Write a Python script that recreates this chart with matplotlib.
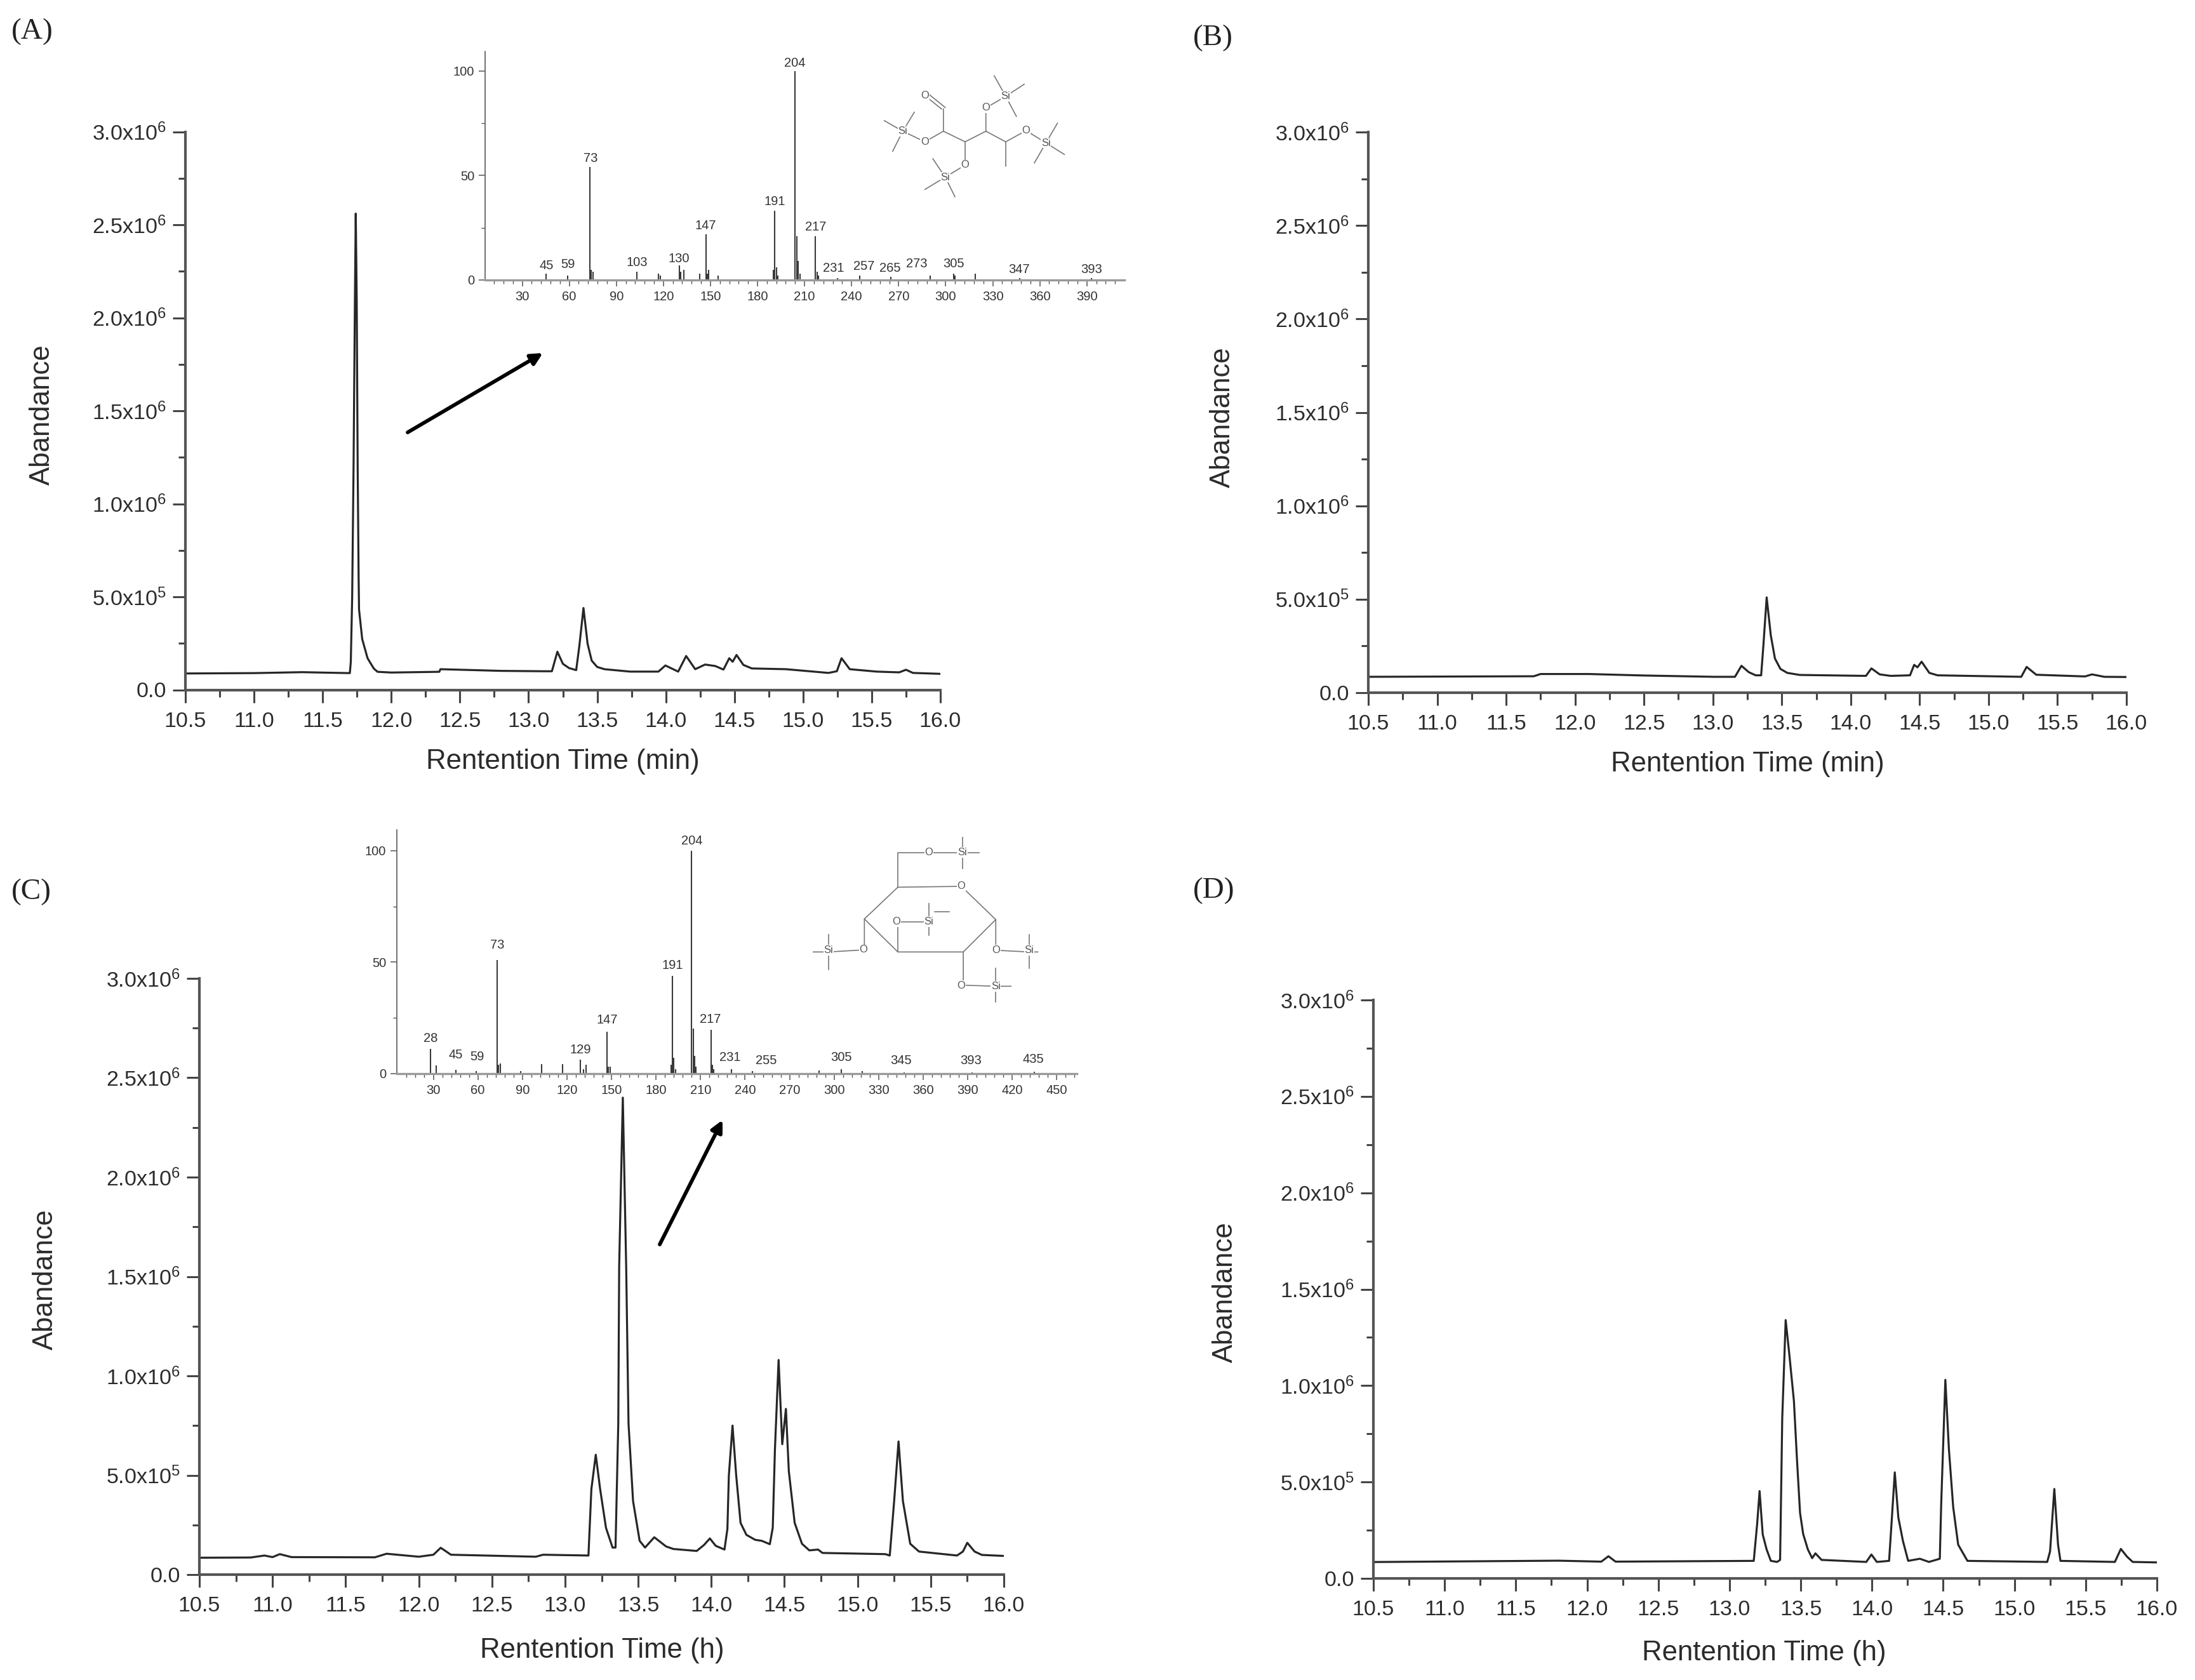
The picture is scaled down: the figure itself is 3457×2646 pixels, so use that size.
import matplotlib
matplotlib.use("Agg")
import matplotlib.pyplot as plt
import numpy as np

W, H = 3457, 2646
DPI = 100
INK = "#2b2b2b"

plt.rcParams["font.family"] = ["Liberation Sans", "DejaVu Sans"]
plt.rcParams["mathtext.default"] = "regular"

# chromatograms, abundance in units of 1e5
time_a = [10.5, 11.0, 11.35, 11.69, 11.698, 11.705, 11.715, 11.725, 11.735, 11.741, 11.748, 11.755, 11.762, 11.765,
          11.788, 11.827, 11.873, 11.9, 12.0, 12.35, 12.358, 12.8, 13.1, 13.17, 13.21, 13.25, 13.295, 13.347, 13.37,
          13.4, 13.43, 13.46, 13.5, 13.553, 13.74, 13.946, 13.997, 14.09, 14.148, 14.214, 14.286, 14.36, 14.42,
          14.462, 14.487, 14.515, 14.565, 14.627, 14.875, 15.185, 15.246, 15.28, 15.34, 15.536, 15.7, 15.75, 15.8,
          16.0]
abund_a = [0.88, 0.90, 0.95, 0.90, 0.90, 1.5, 5.0, 12.0, 21.0, 25.6, 21.0, 12.0, 6.0, 4.32,
           2.73, 1.7, 1.14, 0.97, 0.93, 0.97, 1.11, 1.02, 1.0, 1.0, 2.05, 1.4, 1.17, 1.06, 2.36,
           4.4, 2.48, 1.57, 1.23, 1.11, 0.98, 0.98, 1.31, 0.98, 1.82, 1.11, 1.36, 1.28, 1.09,
           1.7, 1.51, 1.875, 1.34, 1.15, 1.11, 0.91, 1.0, 1.7, 1.11, 0.98, 0.94, 1.08, 0.91,
           0.86]

time_b = [10.5, 11.7, 11.75, 12.1, 12.5, 13.01, 13.16, 13.207, 13.26, 13.31, 13.35, 13.366, 13.39, 13.42, 13.45,
          13.49, 13.54, 13.63, 14.11, 14.15, 14.21, 14.29, 14.43, 14.46, 14.484, 14.514, 14.57, 14.63, 15.237,
          15.276, 15.346, 15.7, 15.75, 15.84, 16.0]
abund_b = [0.85, 0.88, 1.0, 1.0, 0.92, 0.85, 0.85, 1.44, 1.1, 0.93, 0.93, 2.5, 5.1, 3.07, 1.83,
           1.27, 1.06, 0.95, 0.90, 1.3, 0.98, 0.90, 0.93, 1.49, 1.36, 1.66, 1.06, 0.93, 0.85,
           1.38, 0.96, 0.87, 0.98, 0.85, 0.84]

time_c = [10.5, 10.85, 10.945, 11.0, 11.05, 11.13, 11.7, 11.78, 12.0, 12.1, 12.15, 12.22, 12.8, 12.85, 13.16, 13.18,
          13.21, 13.24, 13.28, 13.325, 13.345, 13.364, 13.37, 13.395, 13.418, 13.434, 13.465, 13.51, 13.547, 13.61,
          13.69, 13.74, 13.9, 13.95, 13.99, 14.03, 14.09, 14.11, 14.12, 14.145, 14.17, 14.2, 14.24, 14.30, 14.345,
          14.4, 14.42, 14.435, 14.46, 14.485, 14.51, 14.53, 14.57, 14.62, 14.67, 14.73, 14.76, 15.19, 15.22,
          15.25, 15.28, 15.31, 15.36, 15.42, 15.68, 15.72, 15.75, 15.8, 15.85, 16.0]
abund_c = [0.85, 0.86, 0.96, 0.88, 1.03, 0.88, 0.87, 1.05, 0.90, 1.0, 1.35, 1.0, 0.90, 1.0, 0.96, 4.3,
           6.03, 4.3, 2.35, 1.36, 1.36, 7.6, 15.5, 24.0, 15.5, 7.6, 3.7, 1.7, 1.36, 1.88,
           1.42, 1.29, 1.19, 1.49, 1.82, 1.45, 1.26, 2.3, 5.0, 7.5, 5.0, 2.6, 2.0, 1.75, 1.7,
           1.53, 2.35, 6.3, 10.8, 6.56, 8.34, 5.2, 2.6, 1.55, 1.22, 1.26, 1.09, 1.03, 0.96,
           3.7, 6.7, 3.7, 1.55, 1.16, 0.96, 1.16, 1.6, 1.16, 0.99, 0.94]

time_d = [10.5, 11.8, 12.1, 12.15, 12.2, 13.17, 13.194, 13.211, 13.233, 13.26, 13.29, 13.334, 13.355, 13.37, 13.394,
          13.42, 13.452, 13.474, 13.495, 13.517, 13.55, 13.58, 13.603, 13.646, 13.96, 13.996, 14.034, 14.12, 14.137,
          14.16, 14.185, 14.217, 14.254, 14.336, 14.4, 14.476, 14.486, 14.515, 14.54, 14.57, 14.605, 14.67, 15.23,
          15.25, 15.28, 15.306, 15.323, 15.705, 15.747, 15.79, 15.83, 16.0]
abund_d = [0.85, 0.92, 0.87, 1.15, 0.87, 0.91, 2.83, 4.53, 2.28, 1.51, 0.91, 0.855, 0.96, 8.3, 13.4,
           11.6, 9.2, 6.1, 3.4, 2.3, 1.5, 1.05, 1.3, 0.96, 0.855, 1.24, 0.855, 0.91, 2.83,
           5.5, 3.16, 1.95, 0.91, 1.02, 0.855, 1.02, 3.9, 10.3, 6.7, 3.7, 1.75, 0.91, 0.855,
           1.4, 4.64, 1.75, 0.91, 0.855, 1.53, 1.13, 0.855, 0.83]

# mass spectra
mz_a = [45, 59, 73, 74, 75, 103, 117, 118, 130, 131, 133, 143, 147, 148, 149, 155, 190, 191, 192, 193, 204, 205,
        206, 207, 217, 218, 219, 231, 245, 265, 290, 305, 306, 319, 347, 393]
rel_a = [3, 2, 54, 5, 4, 4, 3, 2, 7, 4, 5, 3, 22, 3, 5, 2, 5, 33, 6, 2, 100, 21,
         9, 3, 21, 4, 2, 1, 2, 1.5, 2, 3, 2, 3, 1, 1]
peak_names_a = ["45", "59", "73", "103", "130", "147", "191", "204", "217", "231", "257", "265", "273", "305",
                "347", "393"]
peak_name_x_a = [45.3, 59.3, 73.7, 103, 130, 147, 191, 203.7, 217, 228.6, 248, 264.7, 281.5, 305, 346.6, 393]
peak_name_y_a = [4, 4.5, 55.4, 5.5, 7.3, 23, 34.6, 101, 22.5, 2.7, 3.7, 2.7, 4.8, 4.8, 2, 2.2]

mz_c = [28, 32, 45, 59, 73, 74, 75, 89, 103, 117, 129, 131, 133, 147, 148, 149, 190, 191, 192, 193, 204, 205, 206,
        207, 217, 218, 219, 231, 245, 290, 305, 319, 347, 393, 435]
rel_c = [11.2, 3.6, 1.8, 1, 51, 4, 4.5, 1, 4.2, 4.2, 6.2, 2, 4, 18.8, 3, 3, 4, 43.8, 7, 2, 100, 20.2, 8,
         3, 19.7, 4, 2, 2, 1, 1.5, 2, 1, 0.7, 0.7, 0.8]
peak_names_c = ["28", "45", "59", "73", "129", "147", "191", "204", "217", "231", "255", "305", "345", "393", "435"]
peak_name_x_c = [28, 45, 59.5, 73, 129, 147, 191, 204, 216.5, 230, 254, 305, 345, 392, 434]
peak_name_y_c = [13, 5.8, 4.8, 55, 8, 21.4, 46, 101.6, 21.6, 4.5, 3, 4.5, 3, 3, 3.6]

# main axis ticks
x_ticks = [10.5, 11.0, 11.5, 12.0, 12.5, 13.0, 13.5, 14.0, 14.5, 15.0, 15.5, 16.0]
y_ticks = [0, 5, 10, 15, 20, 25, 30]
y_labels = ["0.0", "5.0x10$^{5}$", "1.0x10$^{6}$", "1.5x10$^{6}$", "2.0x10$^{6}$", "2.5x10$^{6}$", "3.0x10$^{6}$"]

# structure sketches, as (x, y) pairs in image pixels before scaling
bonds_a = [[(1108, 335), (1108, 440), (1155, 490), (1200, 440), (1243, 490), (1243, 605)],
           [(1108, 440), (1068, 490), (1020, 440)], [(980, 390), (1020, 440)], [(1045, 350), (1020, 440)],
           [(998, 535), (1020, 440)], [(1155, 490), (1155, 600), (1112, 657)], [(1085, 570), (1112, 657)],
           [(1068, 715), (1112, 657)], [(1133, 750), (1112, 657)], [(1200, 440), (1200, 330), (1243, 275)],
           [(1218, 178), (1243, 275)], [(1283, 218), (1243, 275)], [(1266, 370), (1243, 275)],
           [(1243, 490), (1287, 437), (1330, 495)], [(1355, 402), (1330, 495)], [(1370, 550), (1330, 495)],
           [(1305, 590), (1330, 495)], [(1068, 272), (1104, 335)], [(1078, 268), (1112, 328)]]
atoms_a = [("O", 1068, 272), ("Si", 1020, 440), ("O", 1068, 490), ("O", 1155, 600), ("Si", 1112, 657),
           ("O", 1200, 330), ("Si", 1243, 275), ("O", 1287, 437), ("Si", 1330, 495)]

bonds_c = [[(1135, 322), (1268, 318), (1340, 475), (1272, 628), (1135, 628), (1065, 472), (1135, 322)],
           [(1135, 322), (1135, 158), (1200, 158), (1270, 158), (1305, 158)], [(1270, 88), (1270, 235)],
           [(1065, 472), (1065, 618), (990, 628), (958, 628)], [(990, 545), (990, 710)],
           [(1135, 628), (1135, 485), (1200, 485)], [(1200, 400), (1200, 550)], [(1212, 438), (1242, 438)],
           [(1340, 475), (1340, 620), (1410, 628), (1428, 628)], [(1410, 545), (1410, 705)],
           [(1272, 628), (1272, 785), (1340, 790), (1372, 790)], [(1340, 705), (1340, 865)]]
atoms_c = [("O", 1200, 158), ("Si", 1270, 158), ("O", 1268, 318), ("O", 1132, 485), ("Si", 1200, 485),
           ("O", 1063, 618), ("Si", 990, 620), ("O", 1340, 620), ("Si", 1410, 620), ("O", 1268, 788),
           ("Si", 1340, 790)]


def add_box(left, right, top, bottom, **kw):
    return fig.add_axes([left / W, 1 - bottom / H, (right - left) / W, (bottom - top) / H], **kw)


def chromatogram(box, t, a, xlabel, xlabel_pos, ylabel_pos):
    ax = add_box(*box)
    ax.patch.set_alpha(0)
    ax.plot(t, a, color="#262626", lw=2.3, solid_joinstyle="round")
    ax.set_xlim(10.5, 16.0)
    ax.set_ylim(0, 30)
    for side in ("top", "right"):
        ax.spines[side].set_visible(False)
    for side in ("left", "bottom"):
        ax.spines[side].set_linewidth(3)
        ax.spines[side].set_color("#555555")
    ax.set_xticks(x_ticks)
    ax.set_xticks(np.arange(10.75, 16, 0.5), minor=True)
    ax.set_yticks(y_ticks, y_labels)
    ax.set_yticks(np.arange(2.5, 30, 5), minor=True)
    ax.tick_params(which="major", length=14.5, width=2.2, color="#444444", labelsize=24.5, labelcolor=INK)
    ax.tick_params(which="minor", length=8, width=2.2, color="#444444")
    ax.tick_params(axis="x", which="major", pad=10)
    ax.tick_params(axis="y", which="major", pad=7)
    ax.set_xlabel(xlabel, fontsize=31.5, color=INK, va="center")
    ax.xaxis.set_label_coords(xlabel_pos[0], xlabel_pos[1], transform=page.transData)
    ax.set_ylabel("Abandance", fontsize=31.5, color=INK, va="center")
    ax.yaxis.set_label_coords(ylabel_pos[0], ylabel_pos[1], transform=page.transData)
    return ax


def spectrum(box, xlim, mz, rel, names, name_x, name_y):
    ax = add_box(*box)
    ax.set_facecolor("white")
    ax.vlines(mz, 0, rel, color="#3a3a3a", lw=1.5)
    ax.set_xlim(*xlim)
    ax.set_ylim(0, 109.4)
    for side in ("top", "right"):
        ax.spines[side].set_visible(False)
    ax.spines["left"].set_linewidth(1.3)
    ax.spines["left"].set_color("#666666")
    ax.spines["bottom"].set_linewidth(2.4)
    ax.spines["bottom"].set_color("#999999")
    ax.set_xticks(np.arange(30, xlim[1], 30))
    ax.set_xticks(np.arange(12, xlim[1], 6), minor=True)
    ax.set_yticks([0, 50, 100])
    ax.set_yticks([25, 75], minor=True)
    ax.tick_params(which="major", length=7, width=1.1, color="#555555", labelsize=14.5, labelcolor="#333333", pad=5)
    ax.tick_params(which="minor", length=4, width=1, color="#555555")
    for name, x, y in zip(names, name_x, name_y):
        ax.text(x, y, name, fontsize=14.5, color="#333333", ha="center", va="bottom")
    return ax


def structure(bonds, atoms, x0, y0, sx, sy):
    for bond in bonds:
        pts = np.array(bond, dtype=float)
        page.plot(x0 + pts[:, 0] / sx, y0 + pts[:, 1] / sy, color="#777777", lw=1.2, zorder=5)
    for name, x, y in atoms:
        page.text(x0 + x / sx, y0 + y / sy, name, fontsize=12, color="#555555", ha="center", va="center", zorder=6,
                  bbox=dict(facecolor="white", edgecolor="none", pad=0.6))


fig = plt.figure(figsize=(W / DPI, H / DPI), dpi=DPI, facecolor="white")

# page-wide pixel layer for labels, arrows and structures
page = fig.add_axes([0, 0, 1, 1], zorder=10)
page.set_xlim(0, W)
page.set_ylim(H, 0)
page.axis("off")

chromatogram((292, 1481, 207.5, 1086.5), time_a, abund_a, "Rentention Time (min)", (886, 1200), (66, 653))
chromatogram((2155, 3349, 208, 1091), time_b, abund_b, "Rentention Time (min)", (2752, 1204), (1925, 657))
chromatogram((314, 1581, 1541, 2480), time_c, abund_c, "Rentention Time (h)", (948, 2600), (71, 2015))
chromatogram((2163, 3397, 1575, 2486), time_d, abund_d, "Rentention Time (h)", (2778, 2604), (1929, 2035))

spectrum((764, 1771, 81, 441), (6.3, 414), mz_a, rel_a, peak_names_a, peak_name_x_a, peak_name_y_a)
spectrum((625, 1696, 1307, 1691), (5.4, 463.5), mz_c, rel_c, peak_names_c, peak_name_x_c, peak_name_y_c)

structure(bonds_a, atoms_a, 680, 60, 1.375, 3)
structure(bonds_c, atoms_c, 560, 1290, 1.329, 3)

for start, end in [((642, 681), (855, 556)), ((1039, 1960), (1138, 1764))]:
    page.annotate("", xy=end, xytext=start,
                  arrowprops=dict(arrowstyle="-|>,head_length=1.1,head_width=0.55", color="black", lw=4.2,
                                  shrinkA=0, shrinkB=0))

for name, x, y in [("(A)", 18, 50), ("(B)", 1879, 60), ("(C)", 18, 1405), ("(D)", 1879, 1403)]:
    page.text(x, y, name, family=["Liberation Serif", "DejaVu Serif"], fontsize=34, color="#222222", va="center")

fig.savefig("out.png", dpi=DPI)
